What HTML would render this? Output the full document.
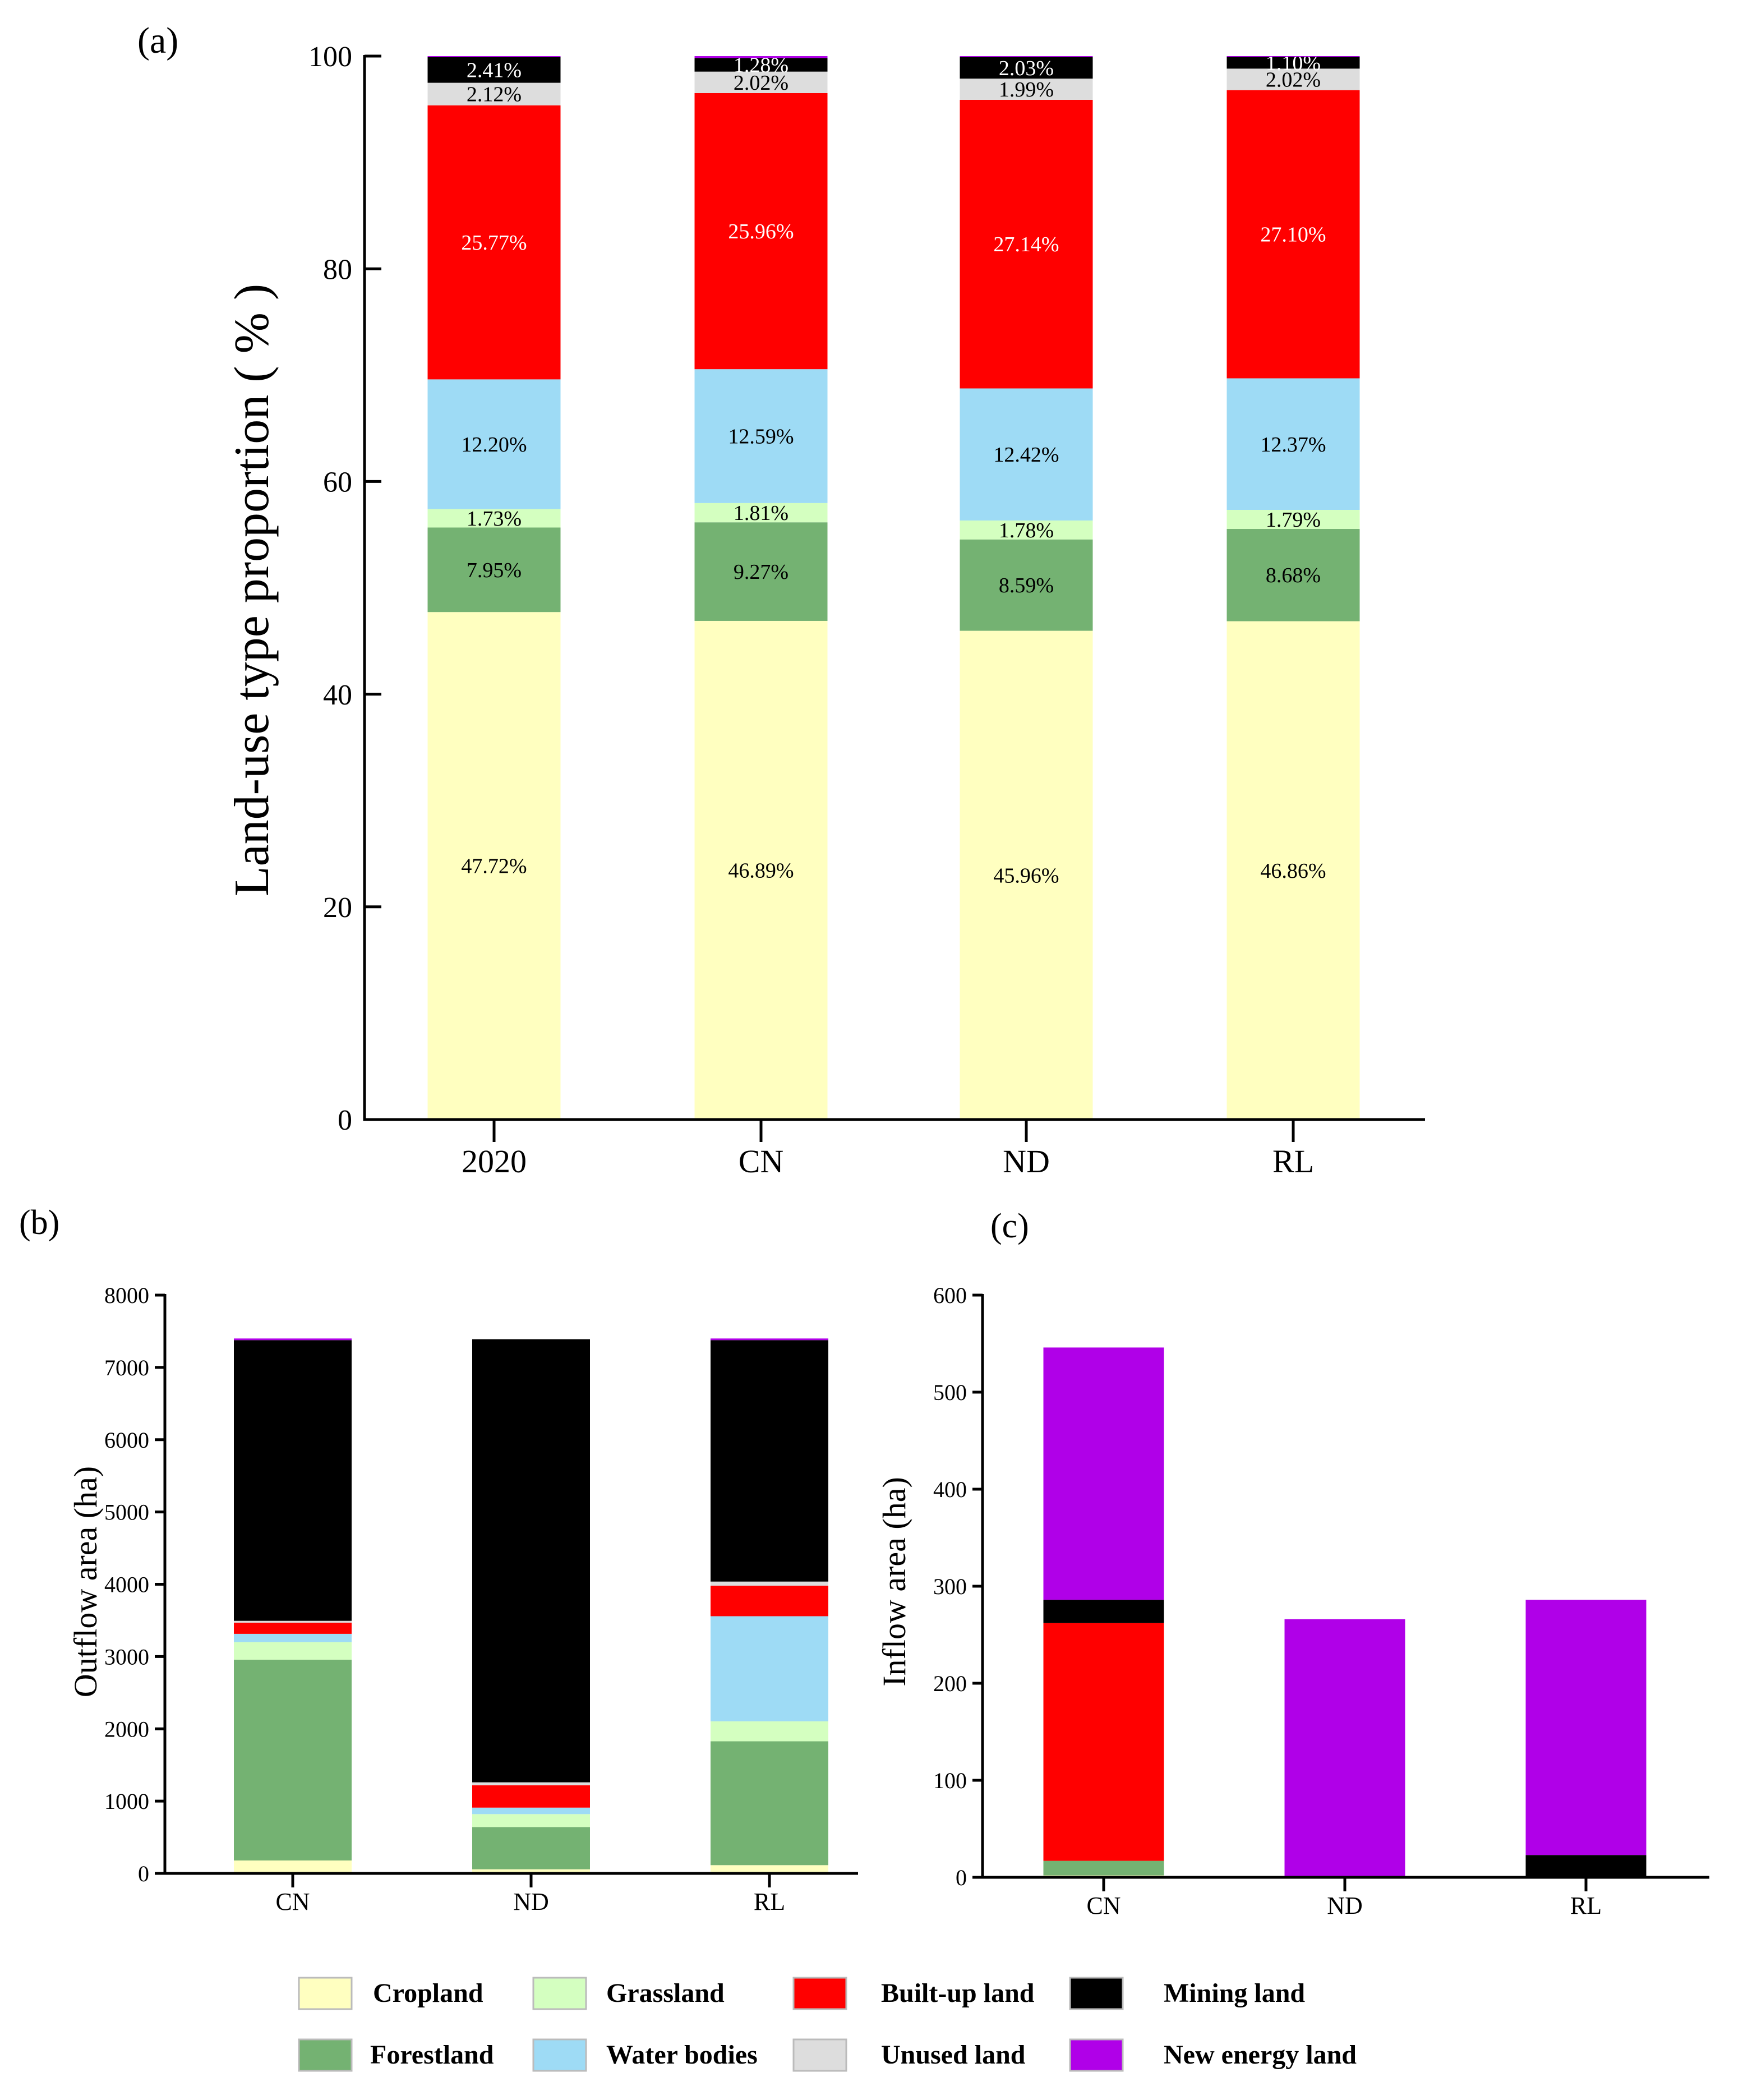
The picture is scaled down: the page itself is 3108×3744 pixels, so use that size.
<!DOCTYPE html>
<html><head><meta charset="utf-8">
<style>
html,body{margin:0;padding:0;background:#fff;}
svg{display:block;}
text{font-family:"Liberation Serif",serif;}
</style></head>
<body>
<svg id="fig" width="3108" height="3744" viewBox="0 0 3108 3744" xmlns="http://www.w3.org/2000/svg">
<rect width="3108" height="3744" fill="#fff"/>
<g id="pa"></g>
<g id="pb"></g>
<g id="pc"></g>
<g id="legend"></g>
</svg>
<script>
const seriesNames = ["Cropland","Forestland","Grassland","Water bodies","Built-up land","Unused land","Mining land","New energy land"];
const seriesColors = ["#FFFFC0","#74B272","#D4FFC0","#9EDBF5","#FF0000","#DDDDDD","#000000","#B000E8"];
const catsA = ["2020","CN","ND","RL"];
const cropA = [47.72,46.89,45.96,46.86];
const forestA = [7.95,9.27,8.59,8.68];
const grassA = [1.73,1.81,1.78,1.79];
const waterA = [12.20,12.59,12.42,12.37];
const builtA = [25.77,25.96,27.14,27.10];
const unusedA = [2.12,2.02,1.99,2.02];
const miningA = [2.41,1.28,2.03,1.10];
const newEnergyA = [0.10,0.18,0.09,0.08];
const ticksA = [0,20,40,60,80,100];

const catsB = ["CN","ND","RL"];
const cropB = [179,57,114];
const forestB = [2778,585,1714];
const grassB = [243,178,276];
const waterB = [114,90,1454];
const builtB = [155,309,422];
const unusedB = [25,41,57];
const miningB = [3883,6130,3340];
const newEnergyB = [23,0,23];
const ticksB = [0,1000,2000,3000,4000,5000,6000,7000,8000];

const catsC = ["CN","ND","RL"];
const cropC = [2,1,0];
const forestC = [15,0,0];
const grassC = [0,0,0];
const waterC = [0,0,0];
const builtC = [245,0,0];
const unusedC = [0,0,0];
const miningC = [24,0,23];
const newEnergyC = [260,265,263];
const ticksC = [0,100,200,300,400,500,600];

const NS="http://www.w3.org/2000/svg";
function mk(tag,attrs,parent){const e=document.createElementNS(NS,tag);for(const k in attrs)e.setAttribute(k,attrs[k]);parent.appendChild(e);return e;}

function panel(g,cfg){
  const {x0,x1,y0,yTop,max,cats,series,ticks,centers,bw,tickFs,catFs,catY,labels,tickInward} = cfg;
  const ys = v => y0 - v/max*(y0-yTop);
  cats.forEach((c,i)=>{
    let acc=0;
    series.forEach((s,k)=>{
      const v=s[i]; if(v<=0){return;}
      const r=mk('rect',{x:centers[i]-bw/2,y:ys(acc+v),width:bw,height:ys(acc)-ys(acc+v),fill:seriesColors[k]},g);
      
      
      if(labels && v>0.5){
        const t=mk('text',{x:centers[i],y:ys(acc+v/2)+13,'font-size':38,'text-anchor':'middle',fill:(k===4||k===6)?'#fff':'#000'},g);
        t.textContent=v.toFixed(2)+'%';
        
        
      }
      acc+=v;
    });
  });
  const ax=mk('path',{d:`M${x0} ${yTop-2} V${y0} H${x1}`,stroke:'#000','stroke-width':5,fill:'none'},g);
  
  
  ticks.forEach(tv=>{
    const y=ys(tv);
    const tl=tickInward?30:-18;
    const l=mk('line',{x1:x0,x2:x0+tl,y1:y,y2:y,stroke:'#000','stroke-width':5},g);
    
    
    const t=mk('text',{x:x0-(tickInward?22:28),y:y+tickFs*0.35,'font-size':tickFs,'text-anchor':'end'},g);
    t.textContent=tv;
    
    
  });
  cats.forEach((c,i)=>{
    const l=mk('line',{x1:centers[i],x2:centers[i],y1:y0,y2:y0+(tickInward?40:25),stroke:'#000','stroke-width':5},g);
    
    
    const t=mk('text',{x:centers[i],y:catY,'font-size':catFs,'text-anchor':'middle'},g);
    t.textContent=c;
    
    
  });
}

const pa=document.getElementById('pa');
panel(pa,{x0:650,x1:2541,y0:1996,yTop:100,max:100,cats:catsA,
  series:[cropA,forestA,grassA,waterA,builtA,unusedA,miningA,newEnergyA],
  ticks:ticksA,centers:[881,1357,1830,2306],bw:237,tickFs:52,catFs:58,catY:2090,labels:true,tickInward:true});
const pb=document.getElementById('pb');
panel(pb,{x0:294,x1:1530,y0:3340,yTop:2309,max:8000,cats:catsB,
  series:[cropB,forestB,grassB,waterB,builtB,unusedB,miningB,newEnergyB],
  ticks:ticksB,centers:[522,947,1372],bw:210,tickFs:40,catFs:44,catY:3405,labels:false,tickInward:false});
const pc=document.getElementById('pc');
panel(pc,{x0:1752,x1:3048,y0:3347,yTop:2309,max:600,cats:catsC,
  series:[cropC,forestC,grassC,waterC,builtC,unusedC,miningC,newEnergyC],
  ticks:ticksC,centers:[1968,2398,2828],bw:215,tickFs:40,catFs:44,catY:3412,labels:false,tickInward:false});

function txt(parent,x,y,fs,s,name,extra){const t=mk('text',Object.assign({x:x,y:y,'font-size':fs},extra||{}),parent);t.textContent=s;return t;}
txt(pa,245,94,66,'(a)','panel-a-label');
txt(pa,0,0,88,'Land-use type proportion ( % )','y-axis-title-a',{'text-anchor':'middle',transform:'translate(478,1052) rotate(-90)'});
txt(pb,34,2200,62,'(b)','panel-b-label');
txt(pb,0,0,58,'Outflow area (ha)','y-axis-title-b',{'text-anchor':'middle',transform:'translate(172,2820) rotate(-90)'});
txt(pc,1766,2206,62,'(c)','panel-c-label');
txt(pc,0,0,58,'Inflow area (ha)','y-axis-title-c',{'text-anchor':'middle',transform:'translate(1614,2820) rotate(-90)'});

const lg=document.getElementById('legend');
const swX=[533,951,1415,1908];
const txX=[[665,1081,1571,2075],[660,1081,1571,2075]];
const rowY=[3553,3663];
const order=[[0,2,4,6],[1,3,5,7]];
order.forEach((row,r)=>row.forEach((k,c)=>{
  const s=mk('rect',{x:swX[c],y:rowY[r]-27,width:94,height:56,fill:seriesColors[k],stroke:'#bbb','stroke-width':3},lg);
  
  
  txt(lg,txX[r][c],rowY[r]+16,48,seriesNames[k],'legend-entry',{'font-weight':'bold'});
}));
</script>
</body></html>
